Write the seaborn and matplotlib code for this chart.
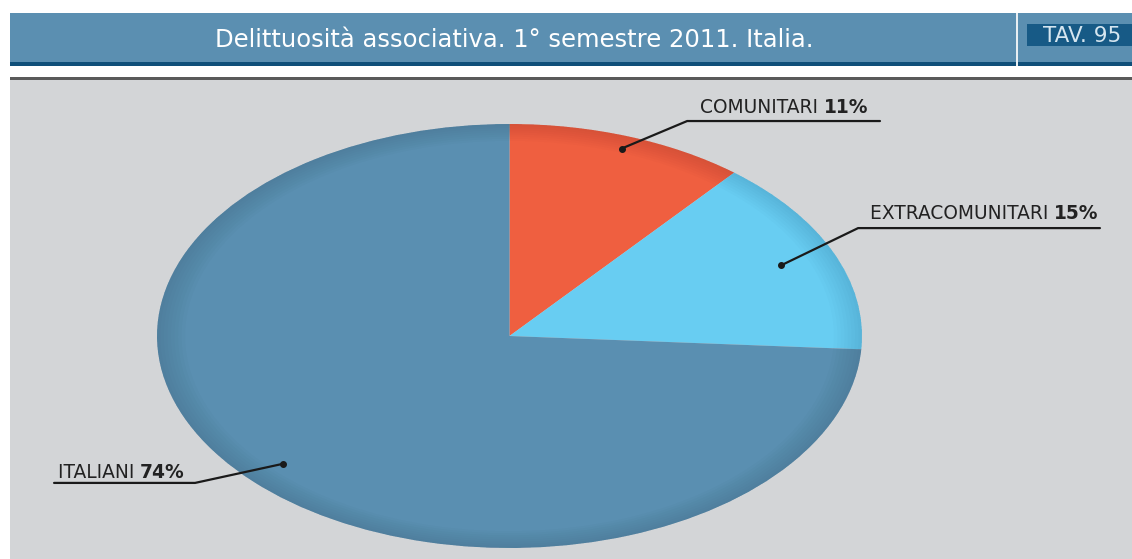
import numpy as np
import matplotlib
matplotlib.use("Agg")
import matplotlib.pyplot as plt
import seaborn as sns
from matplotlib.patches import Rectangle, Wedge

# dati
categorie = ['COMUNITARI', 'EXTRACOMUNITARI', 'ITALIANI']
percentuali = [11, 15, 74]
colori = ['#ef5f40', '#68cdf2', '#5a8fb1']

titolo = 'Delittuosità associativa. 1° semestre 2011. Italia.'
tavola = 'TAV. 95'

sns.set_theme(style='white')
plt.rcParams['font.family'] = ['DejaVu Sans']

W, H = 1132, 559
fig = plt.figure(figsize=(W / 100, H / 100), dpi=100)
fig.patch.set_facecolor('white')

# sfondo (coordinate in pixel)
bg = fig.add_axes([0, 0, 1, 1])
bg.set_xlim(0, W)
bg.set_ylim(H, 0)
bg.axis('off')
bg.add_patch(Rectangle((10, 13), W - 10, 49, color='#5b8fb1', lw=0))
bg.add_patch(Rectangle((10, 62), W - 10, 4, color='#0f4f79', lw=0))
bg.add_patch(Rectangle((1016, 13), 2, 53, color='#e8eef2', lw=0))
bg.add_patch(Rectangle((1027, 24), W - 1027, 22, color='#175a86', lw=0))
bg.add_patch(Rectangle((10, 77), W - 10, 3, color='#5a5a5a', lw=0))
bg.add_patch(Rectangle((10, 80), W - 10, H - 80, color='#d3d5d7', lw=0))
bg.text(514, 40, titolo, color='white', fontsize=17.5, ha='center', va='center')
bg.text(1082, 36, tavola, color='#d6e6f0', fontsize=15.5, ha='center', va='center')

# torta ellittica
cx, cy, rx, ry = 509.5, 336, 352.5, 212
ax = fig.add_axes([(cx - rx) / W, (H - cy - ry) / H, 2 * rx / W, 2 * ry / H])
wedges, _ = ax.pie(percentuali, colors=colori, startangle=90, counterclock=False,
                   wedgeprops=dict(linewidth=0))
ax.set_aspect('auto')
ax.set_xlim(-1, 1)
ax.set_ylim(-1, 1)
ax.axis('off')

# leggera ombra sul bordo
for w in wedges:
    for k in range(8):
        ax.add_patch(Wedge((0, 0), 1.0, w.theta1, w.theta2, width=0.01 * (k + 1),
                           color='black', alpha=0.012, lw=0))

# etichette: gomito, fine linea, inizio testo, linea di base
etichette = {
    'COMUNITARI': dict(gomito=(0.504, 1.014), fine=1.051, testo=(0.540, 1.050), r=0.94),
    'EXTRACOMUNITARI': dict(gomito=(0.989, 0.509), fine=1.675, testo=(1.023, 0.550), r=0.84),
    'ITALIANI': dict(gomito=(-0.892, -0.693), fine=-1.292, testo=(-1.281, -0.668), r=0.88),
}

for w, nome, pct in zip(wedges, categorie, percentuali):
    e = etichette[nome]
    ang = np.deg2rad((w.theta1 + w.theta2) / 2)
    px, py = e['r'] * np.cos(ang), e['r'] * np.sin(ang)
    gx, gy = e['gomito']
    ax.plot([px, gx, e['fine']], [py, gy, gy], color='#1a1a1a', lw=1.6,
            solid_joinstyle='miter', clip_on=False)
    ax.plot(px, py, 'o', color='#1a1a1a', ms=4, clip_on=False)
    t = ax.text(e['testo'][0], e['testo'][1], nome + ' ', fontsize=13.4,
                color='#222222', ha='left', va='baseline')
    ax.annotate(f'{pct}%', xy=(1, 0), xycoords=t, fontsize=13.4, fontweight='bold',
                color='#222222', ha='left', va='bottom')

fig.savefig('out.png', dpi=100)
